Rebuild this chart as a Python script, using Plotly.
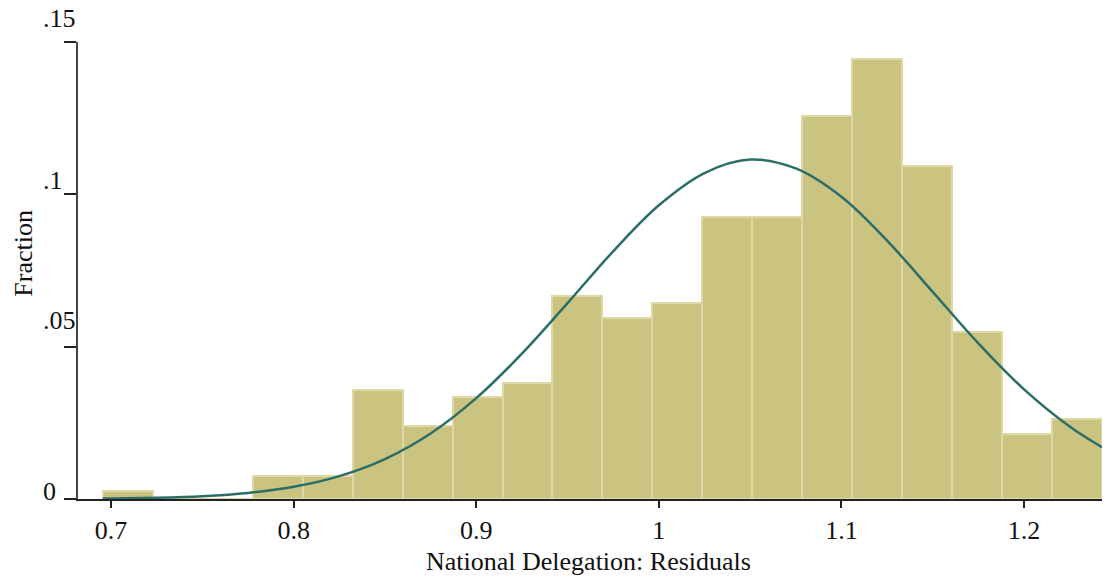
import plotly.graph_objects as go

# ---- data ----
bin_edges = [0.6955, 0.7229, 0.7502, 0.7776, 0.8049, 0.8323, 0.8597, 0.8870, 0.9144,
             0.9417, 0.9691, 0.9964, 1.0238, 1.0512, 1.0785, 1.1059, 1.1332, 1.1606,
             1.1880, 1.2153, 1.2427]
fractions = [0.0027, 0.0, 0.0, 0.0074, 0.0074, 0.0359, 0.0238, 0.0335, 0.0382, 0.0667,
             0.0595, 0.0643, 0.0927, 0.0927, 0.1256, 0.1445, 0.1092, 0.0547, 0.0214, 0.0263]

curve_x = [0.6955, 0.70, 0.725, 0.75, 0.775, 0.80, 0.825, 0.85, 0.875, 0.90, 0.925, 0.95,
           0.975, 1.00, 1.025, 1.05, 1.075, 1.10, 1.125, 1.15, 1.175, 1.20, 1.225, 1.2427]
curve_y = [0.00015, 0.00017, 0.00042, 0.00094, 0.0020, 0.0040, 0.0075, 0.0131, 0.0215,
           0.0331, 0.0477, 0.0643, 0.0813, 0.0964, 0.1070, 0.1114, 0.1085, 0.0992, 0.0848,
           0.0680, 0.0511, 0.0360, 0.0238, 0.0170]

x_tick_vals = [0.7, 0.8, 0.9, 1.0, 1.1, 1.2]
x_tick_text = ["0.7", "0.8", "0.9", "1", "1.1", "1.2"]
y_tick_vals = [0, 0.05, 0.10, 0.15]
y_tick_text = ["0", ".05", ".1", ".15"]

x_title = "National Delegation: Residuals"
y_title = "Fraction"

# ---- styling ----
FONT = "Liberation Serif, Times New Roman, serif"
FS = 26
y_label_shift = {0: 8, 0.05: 26, 0.10: 14, 0.15: 24}

centers = [(a + b) / 2 for a, b in zip(bin_edges[:-1], bin_edges[1:])]
widths = [b - a for a, b in zip(bin_edges[:-1], bin_edges[1:])]

fig = go.Figure()
fig.add_trace(go.Bar(
    x=centers, y=fractions, width=widths,
    marker=dict(color="#CBC480", line=dict(color="#DDD8A6", width=2)),
    showlegend=False, hoverinfo="x+y",
))
fig.add_trace(go.Scatter(
    x=curve_x, y=curve_y, mode="lines", line=dict(color="#2B6E68", width=2.5, shape="spline"),
    showlegend=False, hoverinfo="skip",
))

annotations = []
for v, t in zip(y_tick_vals, y_tick_text):
    annotations.append(dict(
        xref="paper", yref="y", x=0, y=v, text=t, showarrow=False,
        xanchor="left", yanchor="middle", xshift=-37, yshift=y_label_shift[v],
        font=dict(family=FONT, size=FS, color="#111111"),
    ))
annotations.append(dict(
    xref="paper", yref="paper", x=-0.0536, y=0.537, text=y_title, showarrow=False,
    textangle=-90, xanchor="center", yanchor="middle",
    font=dict(family=FONT, size=FS, color="#111111"),
))
annotations.append(dict(
    xref="paper", yref="paper", x=0.4985, y=-0.137, text=x_title, showarrow=False,
    xanchor="center", yanchor="middle",
    font=dict(family=FONT, size=FS, color="#111111"),
))

fig.update_layout(
    width=1107, height=585,
    margin=dict(l=78, r=5, t=42, b=86),
    paper_bgcolor="white", plot_bgcolor="white",
    bargap=0,
    font=dict(family=FONT, size=FS, color="#111111"),
    annotations=annotations,
    xaxis=dict(
        range=[0.6819, 1.2427], tickvals=x_tick_vals, ticktext=x_tick_text,
        showgrid=False, zeroline=False, showline=True, linecolor="#222222", linewidth=1.5,
        ticks="outside", ticklen=7, tickwidth=1.5, tickcolor="#222222",
        tickfont=dict(family=FONT, size=FS, color="#111111"),
    ),
    yaxis=dict(
        range=[0, 0.15], tickvals=y_tick_vals, showticklabels=False,
        showgrid=False, zeroline=False, showline=True, linecolor="#444444", linewidth=1.5,
        ticks="outside", ticklen=12, tickwidth=1.5, tickcolor="#222222",
    ),
)

fig.write_html("out.html", config={"displayModeBar": False})
